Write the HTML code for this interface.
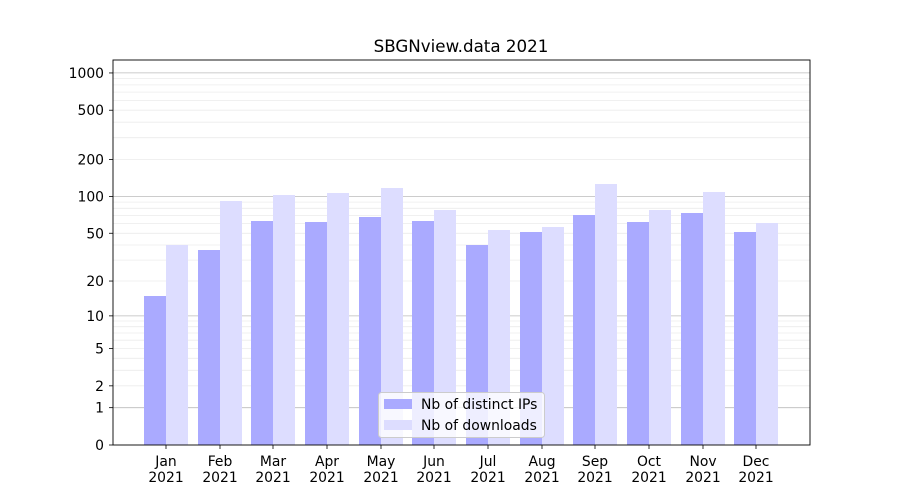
<!DOCTYPE html>
<html><head><meta charset="utf-8"><style>body{margin:0;background:#fff}svg{display:block;font-family:"DejaVu Sans","Liberation Sans",sans-serif}</style></head>
<body><svg id="s" width="900" height="500" xmlns="http://www.w3.org/2000/svg"></svg>
<script>
var s=document.getElementById('s'),h='';
function Y(v){return 445-124*Math.log10(1+v);}
h+='<rect width="900" height="500" fill="#fff"/>';
[2,3,4,5,6,7,8,9,20,30,40,50,60,70,80,90,200,300,400,500,600,700,800,900].forEach(function(v){h+='<line x1="113" x2="810" y1="'+Y(v).toFixed(1)+'" y2="'+Y(v).toFixed(1)+'" stroke="#ececec" stroke-width="0.8"/>';});
[1,10,100,1000].forEach(function(v){h+='<line x1="113" x2="810" y1="'+Y(v).toFixed(1)+'" y2="'+Y(v).toFixed(1)+'" stroke="#bbbbbb" stroke-width="0.8"/>';});
var c=[166,220,273,327,381,434,488,542,595,649,703,756];
var b=[296,250,221,222,217,221,245,232,215,222,213,232];
var l=[245,201,195,193,188,210,230,227,184,210,192,223];
var m=['Jan','Feb','Mar','Apr','May','Jun','Jul','Aug','Sep','Oct','Nov','Dec'];
for(var i=0;i<12;i++){
h+='<rect x="'+(c[i]-22)+'" y="'+b[i]+'" width="22" height="'+(445-b[i])+'" fill="#aaaaff"/>';
h+='<rect x="'+c[i]+'" y="'+l[i]+'" width="22" height="'+(445-l[i])+'" fill="#ddddff"/>';
h+='<line x1="'+c[i]+'" x2="'+c[i]+'" y1="445" y2="449" stroke="#000" stroke-width="0.8"/>';
h+='<text x="'+c[i]+'" y="466" font-size="13.9" text-anchor="middle">'+m[i]+'</text><text x="'+c[i]+'" y="482" font-size="13.9" text-anchor="middle">2021</text>';
}
[0,1,2,5,10,20,50,100,200,500,1000].forEach(function(v){var y=Y(v);h+='<line x1="109" x2="113" y1="'+y+'" y2="'+y+'" stroke="#000" stroke-width="0.8"/><text x="104" y="'+(y+5)+'" font-size="13.9" text-anchor="end">'+v+'</text>';});
h+='<rect x="113" y="60" width="697" height="385" fill="none" stroke="#000" stroke-width="0.9"/>';
h+='<text x="461" y="52" font-size="16.7" text-anchor="middle">SBGNview.data 2021</text>';
h+='<rect x="378.5" y="392.5" width="166" height="45" rx="3" fill="#fff" fill-opacity="0.8" stroke="#ccc"/>';
h+='<rect x="384" y="399" width="28" height="10" fill="#aaaaff"/><text x="421" y="409" font-size="13.9">Nb of distinct IPs</text>';
h+='<rect x="384" y="420" width="28" height="10" fill="#ddddff"/><text x="421" y="430" font-size="13.9">Nb of downloads</text>';
s.innerHTML=h;
</script></body></html>
